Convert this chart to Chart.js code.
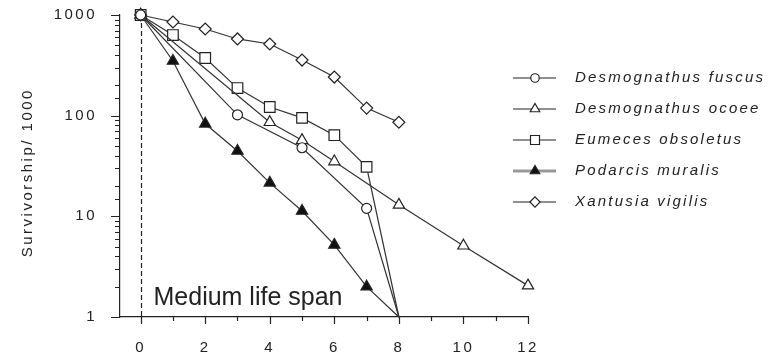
<!DOCTYPE html>
<html>
<head>
<meta charset="utf-8">
<script src="https://cdn.jsdelivr.net/npm/chart.js@4/dist/chart.umd.min.js"></script>
<style>
  html, body { margin: 0; background: #fff; }
  #wrap { width: 783px; height: 356px; position: relative; }
</style>
</head>
<body>
<div id="wrap"><canvas id="chart"></canvas></div>
<script>
// ==================== DATA ====================
const seriesNames = ["Desmognathus fuscus", "Desmognathus ocoee", "Eumeces obsoletus", "Podarcis muralis", "Xantusia vigilis"];

const fuscusAge = [0, 3, 5, 7, 8];
const fuscusVal = [1000, 102, 48, 12, 1];

const ocoeeAge = [0, 4, 5, 6, 8, 10, 12];
const ocoeeVal = [1000, 86, 57, 35, 13, 5.1, 2.05];

const eumecesAge = [0, 1, 2, 3, 4, 5, 6, 7, 8];
const eumecesVal = [1000, 632, 374, 188, 122, 95, 64, 31, 1];

const podarcisAge = [0, 1, 2, 3, 4, 5, 6, 7, 8];
const podarcisVal = [1000, 349, 83, 44.6, 21.5, 11.3, 5.2, 2.0, 1];

const xantusiaAge = [0, 1, 2, 3, 4, 5, 6, 7, 8];
const xantusiaVal = [1000, 852, 726, 578, 515, 357, 242, 119, 86];

const xLabels = [0, 2, 4, 6, 8, 10, 12];
const yLabels = [1, 10, 100, 1000];
const medianAge = 0;
const spanLabel = "Medium life span";
const yTitle = "Survivorship/ 1000  ";

// ==================== STYLE ====================
const ink = "#222";
const FONT = '"Liberation Sans", Arial, sans-serif';

const pts = (ages, vals) => ages.map((a, i) => ({ x: a, y: vals[i] }));

// points that reach 1 (all dead) carry no marker
const mkSet = (i, ages, vals, style, radius, fill) => ({
  label: seriesNames[i],
  data: pts(ages, vals),
  borderColor: "#333",
  borderWidth: 1.2,
  pointStyle: style,
  baseRadius: radius,
  pointRadius: c => (c.raw && c.raw.y <= 1 ? 0 : radius),
  pointBackgroundColor: fill,
  pointBorderColor: ink,
  pointBorderWidth: 1.2,
  clip: false,
  tension: 0
});

const datasets = [
  mkSet(0, fuscusAge, fuscusVal, "circle", 5, "#fff"),
  mkSet(1, ocoeeAge, ocoeeVal, "triangle", 6.5, "#fff"),
  mkSet(2, eumecesAge, eumecesVal, "rect", 7.5, "#fff"),
  mkSet(3, podarcisAge, podarcisVal, "triangle", 6.5, "#111"),
  mkSet(4, xantusiaAge, xantusiaVal, "rectRot", 6, "#fff")
];
datasets[3].legendLine = "#999";
datasets[3].legendWidth = 3;

// ==================== PLUGINS ====================
const textSpacing = {
  id: "textSpacing",
  beforeDraw(chart) { chart.ctx.letterSpacing = "2.5px"; }
};

const axisTicks = {
  id: "axisTicks",
  afterDraw(chart) {
    const { x, y } = chart.scales;
    const ctx = chart.ctx;
    const area = chart.chartArea;
    ctx.save();
    ctx.strokeStyle = ink;
    ctx.lineWidth = 1.2;
    ctx.beginPath();
    y.ticks.forEach(t => {
      const lg = Math.log10(t.value);
      const major = Math.abs(lg - Math.round(lg)) < 1e-9;
      const py = Math.round(y.getPixelForValue(t.value)) + 0.5;
      ctx.moveTo(area.left - (major ? 9 : 5), py);
      ctx.lineTo(area.left, py);
    });
    x.ticks.forEach(t => {
      const v = t.value;
      if (v < 0 || Math.abs(v - Math.round(v)) > 1e-9) return;
      const px = Math.round(x.getPixelForValue(v)) + 0.5;
      ctx.moveTo(px, area.bottom);
      ctx.lineTo(px, area.bottom + (v % 2 === 0 ? 7 : 4));
    });
    ctx.stroke();
    ctx.restore();
  }
};

const spanLine = {
  id: "spanLine",
  beforeDatasetsDraw(chart) {
    const { x } = chart.scales;
    const ctx = chart.ctx;
    const area = chart.chartArea;
    const px = Math.round(x.getPixelForValue(medianAge)) + 0.5;
    ctx.save();
    ctx.strokeStyle = ink;
    ctx.lineWidth = 1.2;
    ctx.setLineDash([5, 3]);
    ctx.beginPath();
    ctx.moveTo(px, area.top);
    ctx.lineTo(px, area.bottom);
    ctx.stroke();
    ctx.setLineDash([]);
    ctx.letterSpacing = "0px";
    ctx.fillStyle = ink;
    ctx.font = "25px " + FONT;
    ctx.textBaseline = "alphabetic";
    ctx.fillText(spanLabel, px + 12, area.bottom - 12);
    ctx.restore();
  }
};

const sideLegend = {
  id: "sideLegend",
  afterDraw(chart) {
    const ctx = chart.ctx;
    ctx.save();
    chart.data.datasets.forEach((ds, i) => {
      const y = 78 + i * 31;
      ctx.strokeStyle = ds.legendLine || ink;
      ctx.lineWidth = ds.legendWidth || 1.2;
      ctx.beginPath();
      ctx.moveTo(513, y);
      ctx.lineTo(556, y);
      ctx.stroke();
      ctx.fillStyle = ds.pointBackgroundColor;
      ctx.strokeStyle = ink;
      ctx.lineWidth = 1.2;
      Chart.helpers.drawPoint(ctx, { pointStyle: ds.pointStyle, radius: ds.baseRadius * 0.85, borderWidth: 1.2, rotation: 0 }, 535, y);
      ctx.fillStyle = ink;
      ctx.font = "italic 15px " + FONT;
      ctx.letterSpacing = "2.2px";
      ctx.textBaseline = "middle";
      ctx.textAlign = "left";
      ctx.fillText(ds.label, 575, y);
    });
    ctx.restore();
  }
};

const noEdgePad = s => { s.paddingTop = 0; s.paddingBottom = 0; s.paddingLeft = 0; s.paddingRight = 0; };

// ==================== CHART ====================
new Chart(document.getElementById("chart"), {
  type: "line",
  data: { datasets },
  options: {
    responsive: true,
    maintainAspectRatio: false,
    animation: false,
    devicePixelRatio: 1,
    layout: { padding: { top: 15, right: 255, left: 0, bottom: 0 } },
    plugins: { legend: { display: false }, tooltip: { enabled: false } },
    scales: {
      x: {
        type: "linear",
        min: -0.64,
        max: 12,
        afterFit: s => { s.height = 39; noEdgePad(s); },
        grid: { display: false, drawTicks: false },
        border: { display: true, color: ink, width: 1.2 },
        ticks: {
          stepSize: 1,
          includeBounds: false,
          autoSkip: false,
          maxRotation: 0,
          padding: 22,
          color: ink,
          font: { family: FONT, size: 15 },
          callback: v => xLabels.includes(v) ? String(v) : ""
        }
      },
      y: {
        type: "logarithmic",
        min: 1,
        max: 1000,
        afterFit: s => { s.width = 120; noEdgePad(s); },
        grid: { display: false, drawTicks: false },
        border: { display: true, color: ink, width: 1.2 },
        ticks: {
          autoSkip: false,
          padding: 23,
          color: ink,
          font: { family: FONT, size: 15 },
          callback: v => yLabels.includes(v) ? String(v) : ""
        },
        title: {
          display: true,
          text: yTitle,
          color: ink,
          font: { family: FONT, size: 15 },
          padding: { top: 19, bottom: 0 }
        }
      }
    }
  },
  plugins: [textSpacing, spanLine, axisTicks, sideLegend]
});
</script>
</body>
</html>
